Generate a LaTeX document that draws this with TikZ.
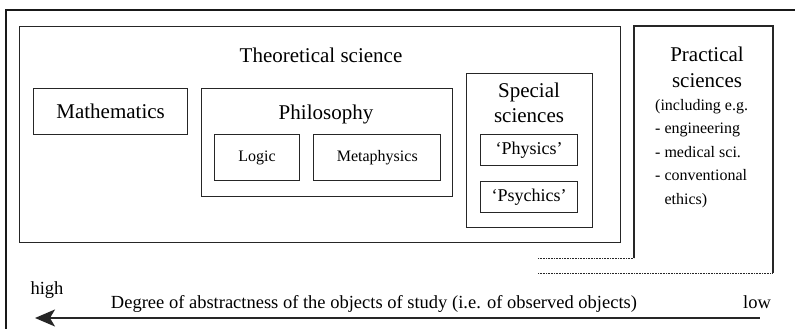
\documentclass[tikz,border=0pt]{standalone}
\usepackage{fontspec}
\setmainfont{Liberation Serif}
\usetikzlibrary{arrows.meta,positioning}

\begin{document}
\begin{tikzpicture}[
  x=1pt, y=-1pt,
  fld/.style={draw=black!85, line width=1.2pt, inner sep=0pt, anchor=north west, font=\fontsize{21}{25}\selectfont},
  sub/.style={draw=black!85, line width=1.2pt, inner sep=0pt, font=\fontsize{16}{19}\selectfont},
  ttl/.style={inner sep=0pt, anchor=base, align=center, font=\fontsize{21}{25}\selectfont},
  note/.style={inner sep=0pt, anchor=base, font=\fontsize{18.5}{22}\selectfont},
  arr/.style={{Stealth[length=20pt,width=17pt,inset=5pt]}-, line width=1.8pt, draw=black!85},
  dots/.style={line width=0.7pt, dash pattern=on 0.7pt off 0.9pt, draw=black!85}
]
\useasboundingbox (0,0) rectangle (795,329);
\draw[line width=1.8pt, black!90] (6,329) -- (6,10) -- (800,10);

% theoretical science
\node[fld, minimum width=601pt, minimum height=216pt] (theo) at (19,26) {};
\node[ttl] (theot) at (321,63) {Theoretical science};
\node[fld, minimum width=154pt, minimum height=46pt] (math) at (33,88) {Mathematics};

\node[fld, minimum width=251pt, minimum height=108pt] (phil) at (201,88) {};
\node[ttl] (philt) at (326,119) {Philosophy};
\node[sub, anchor=north west, minimum width=85pt, minimum height=46pt] (logic) at (214,134) {Logic};
\node[sub, right=13pt of logic, minimum width=127pt, minimum height=46pt] (meta) {Metaphysics};

\node[fld, minimum width=126pt, minimum height=154pt] (spec) at (466,73) {};
\node[ttl] (spect) at (529,122) {Special\\sciences};
\node[sub, anchor=north west, minimum width=97pt, minimum height=31pt, font=\fontsize{18}{21}\selectfont] (phys) at (480,134) {‘Physics’};
\node[sub, below=15pt of phys, minimum width=97pt, minimum height=31pt, font=\fontsize{18}{21}\selectfont] (psych) {‘Psychics’};

% practical sciences
\coordinate (pr-sw) at (634,258);
\coordinate (pr-nw) at (634,26);
\coordinate (pr-ne) at (773,26);
\coordinate (pr-se) at (773,273);
\draw[line width=1.2pt, black!85] (pr-sw) -- (pr-nw) -- (pr-ne) -- (pr-se);
\coordinate (d1) at (538,258);
\coordinate (d2) at (538,273);
\draw[dots] (d1) -- (pr-sw);
\draw[dots] (d2) -- (pr-se);
\node[ttl] (pract) at (707,87) {Practical\\sciences};
\node[inner sep=0pt, anchor=base west, align=left, font=\fontsize{16}{23.5}\selectfont] (prlist) at (655,204)
  {(including e.g.\\- engineering\\- medical sci.\\- conventional\\\phantom{- }ethics)};

% axis
\coordinate (hi) at (35,318);
\coordinate (lo) at (760,318);
\draw[arr] (hi) -- (lo);
\node[note] (high) at (47,294) {high};
\node[note] (deg) at (374,308) {Degree of abstractness of the objects of study (i.e. of observed objects)};
\node[note] (low) at (757,308) {low};
\end{tikzpicture}
\end{document}
